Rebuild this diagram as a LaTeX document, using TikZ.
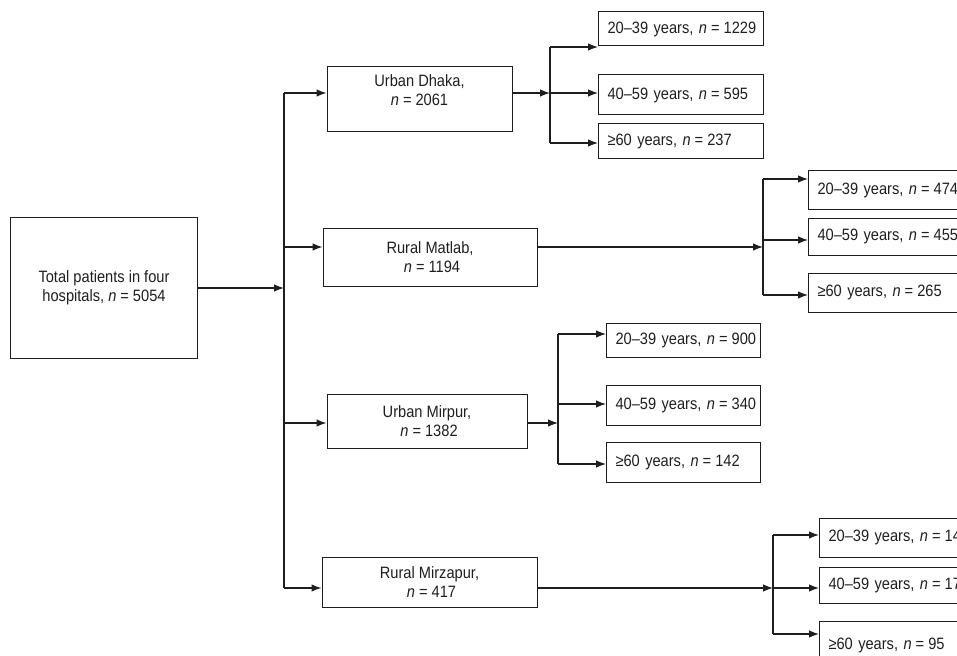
\documentclass[tikz,border=0pt]{standalone}
\usepackage{fontspec}
\setmainfont[FakeStretch=0.89]{Liberation Sans}
\usetikzlibrary{arrows.meta}
\definecolor{ink}{HTML}{1E1E1E}
\newcommand{\ncount}[1]{\textit{n}\hspace{4bp}=\hspace{4bp}#1}
\tikzset{
  site/.style={draw=ink, line width=1bp, align=center, inner sep=0pt, text=ink},
  agebox/.style={draw=ink, line width=1bp, align=left, anchor=west, inner sep=0pt, text width=#1, text=ink,
    execute at begin node={\hspace*{9bp}}},
}
\begin{document}
\begin{tikzpicture}[x=1bp, y=-1bp, line width=1.2bp, draw=ink, >={Latex[length=10bp,width=7.5bp]},
    font=\fontsize{16.5}{19.5}\selectfont]
    \useasboundingbox (0,0) rectangle (957,656);
    \clip (0,0) rectangle (957,656);

    \node[site, minimum width=186bp, minimum height=140bp] (total) at (104,288) {Total patients in four\\hospitals, \ncount{5054}};

    \node[site, minimum width=185bp, minimum height=65bp] (dhaka) at (419.5,99.5) {Urban Dhaka,\\\ncount{2061}\\[-1bp]};
    \node[site, minimum width=214bp, minimum height=58bp] (matlab) at (430,257) {Rural Matlab,\\\ \ncount{1194}};
    \node[site, minimum width=200bp, minimum height=54bp] (mirpur) at (427,421) {Urban Mirpur,\\\ \ncount{1382}};
    \node[site, minimum width=215bp, minimum height=50bp] (mirzapur) at (429.5,582) {Rural Mirzapur,\\\ \ncount{417}};

    % age groups
    \node[agebox=165bp, minimum height=34bp] (d1) at (598,29) {20–39 years, \ncount{1229}};
    \node[agebox=165bp, minimum height=40bp] (d2) at (598,95) {40–59 years, \ncount{595}};
    \node[agebox=165bp, minimum height=34bp] (d3) at (598,141) {≥60 years, \ncount{237}};

    \node[agebox=170bp, minimum height=38bp] (m1) at (808,190) {20–39 years, \ncount{474}};
    \node[agebox=170bp, minimum height=37bp] (m2) at (808,236.5) {40–59 years, \ncount{455}};
    \node[agebox=170bp, minimum height=39bp] (m3) at (808,292.5) {≥60 years, \ncount{265}};

    \node[agebox=154bp, minimum height=34bp] (p1) at (606,340) {20–39 years, \ncount{900}};
    \node[agebox=154bp, minimum height=40bp] (p2) at (606,405) {40–59 years, \ncount{340}};
    \node[agebox=154bp, minimum height=40bp] (p3) at (606,462) {≥60 years, \ncount{142}};

    \node[agebox=170bp, minimum height=39bp] (z1) at (819,537.5) {20–39 years, \ncount{14}};
    \node[agebox=170bp, minimum height=36bp] (z2) at (819,585) {40–59 years, \ncount{17}};
    \node[agebox=170bp, minimum height=49bp] (z3) at (819,645.5) {≥60 years, \ncount{95}};

    % trunk
    \coordinate (trunk) at (284,288);
    \coordinate (ttop) at (284,93);
    \coordinate (tm) at (284,247);
    \coordinate (tp) at (284,423);
    \coordinate (tbot) at (284,588);
    \draw[->] (total.east) -- (trunk);
    \draw (ttop) -- (tbot);
    \draw[->] (ttop) -- (ttop -| dhaka.west);
    \draw[->] (tm) -- (tm -| matlab.west);
    \draw[->] (tp) -- (tp -| mirpur.west);
    \draw[->] (tbot) -- (tbot -| mirzapur.west);

    % Dhaka
    \coordinate (bd) at (550,93);
    \coordinate (bd1) at (550,47);
    \coordinate (bd3) at (550,143);
    \draw[->] (ttop -| dhaka.east) -- (bd);
    \draw (bd1) -- (bd3);
    \draw[->] (bd1) -- (bd1 -| d1.west);
    \draw[->] (bd) -- (bd -| d2.west);
    \draw[->] (bd3) -- (bd3 -| d3.west);

    % Matlab
    \coordinate (bm) at (763,247);
    \coordinate (bm1) at (763,179);
    \coordinate (bm2) at (763,240);
    \coordinate (bm3) at (763,295);
    \draw[->] (tm -| matlab.east) -- (bm);
    \draw (bm1) -- (bm3);
    \draw[->] (bm1) -- (bm1 -| m1.west);
    \draw[->] (bm2) -- (bm2 -| m2.west);
    \draw[->] (bm3) -- (bm3 -| m3.west);

    % Mirpur
    \coordinate (bp) at (558,423);
    \coordinate (bp1) at (558,334);
    \coordinate (bp2) at (558,404);
    \coordinate (bp3) at (558,464);
    \draw[->] (tp -| mirpur.east) -- (bp);
    \draw (bp1) -- (bp3);
    \draw[->] (bp1) -- (bp1 -| p1.west);
    \draw[->] (bp2) -- (bp2 -| p2.west);
    \draw[->] (bp3) -- (bp3 -| p3.west);

    % Mirzapur
    \coordinate (bz) at (773,588);
    \coordinate (bz1) at (773,535);
    \coordinate (bz3) at (773,634);
    \draw[->] (tbot -| mirzapur.east) -- (bz);
    \draw (bz1) -- (bz3);
    \draw[->] (bz1) -- (bz1 -| z1.west);
    \draw[->] (bz) -- (bz -| z2.west);
    \draw[->] (bz3) -- (bz3 -| z3.west);
\end{tikzpicture}
\end{document}
